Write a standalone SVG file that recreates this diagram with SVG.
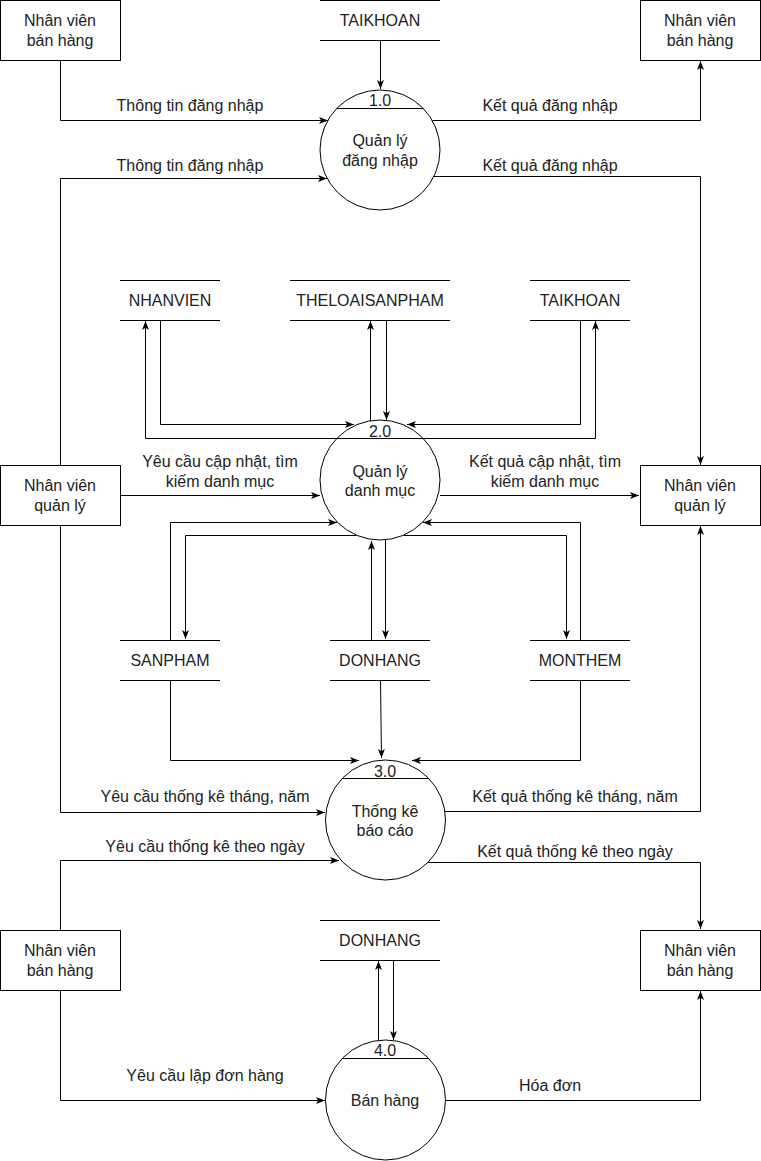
<svg xmlns="http://www.w3.org/2000/svg" width="761" height="1161" viewBox="0 0 761 1161">
<style>
text{font-family:"Liberation Sans",Arial,sans-serif;font-size:16px;fill:#222;text-anchor:middle;dominant-baseline:central}
.b{fill:#fff;stroke:#000;stroke-width:1}
.s{stroke:#000;stroke-width:1;fill:none}
.c{stroke:#000;stroke-width:1;fill:none}
.a{marker-end:url(#ar)}
</style>
<defs>
<marker id="ar" viewBox="0 0 9 7" refX="9" refY="3.5" markerWidth="9" markerHeight="7" markerUnits="userSpaceOnUse" orient="auto">
<path d="M0,0 L9,3.5 L0,7 L2.2,3.5 Z" fill="#000"/>
</marker>
</defs>
<rect width="761" height="1161" fill="#fff"/>

<g id="connectors">
<!-- process 1 -->
<polyline class="c a" points="60.5,60 60.5,120.5 328,120.5"/>
<polyline class="c a" points="60.5,465 60.5,178.5 327,178.5"/>
<polyline class="c a" points="432,120.5 700.5,120.5 700.5,61"/>
<polyline class="c a" points="433,176.5 700.5,176.5 700.5,465"/>
<polyline class="c a" points="380.5,40 380.5,89"/>
<!-- process 2 stores top -->
<polyline class="c a" points="160.5,320 160.5,424.5 354,424.5"/>
<polyline class="c a" points="338,438.5 145.5,438.5 145.5,321"/>
<polyline class="c a" points="370.5,421 370.5,321"/>
<polyline class="c a" points="386.5,320 386.5,420"/>
<polyline class="c a" points="580.5,320 580.5,424.5 407,424.5"/>
<polyline class="c a" points="422,438.5 595.5,438.5 595.5,321"/>
<!-- process 2 externals -->
<polyline class="c a" points="120,495.5 320,495.5"/>
<polyline class="c a" points="440,495.5 639,495.5"/>
<!-- process 2 stores bottom -->
<polyline class="c a" points="170.5,640 170.5,522.5 337,522.5"/>
<polyline class="c a" points="356,535.5 185.5,535.5 185.5,639"/>
<polyline class="c a" points="371.5,640 371.5,541"/>
<polyline class="c a" points="385.5,540 385.5,639"/>
<polyline class="c a" points="580.5,640 580.5,522.5 423,522.5"/>
<polyline class="c a" points="404,535.5 566.5,535.5 566.5,639"/>
<!-- to process 3 -->
<polyline class="c a" points="170.5,680 170.5,760.5 359,760.5"/>
<polyline class="c a" points="380.5,680 381.5,758"/>
<polyline class="c a" points="580.5,680 580.5,760.5 412,760.5"/>
<polyline class="c a" points="60.5,525 60.5,812.5 325,812.5"/>
<polyline class="c a" points="445,811.5 700.5,811.5 700.5,526"/>
<polyline class="c a" points="60.5,930 60.5,860.5 339,860.5"/>
<polyline class="c a" points="428,862.5 700.5,862.5 700.5,929"/>
<!-- process 4 -->
<polyline class="c a" points="60.5,990 60.5,1100.5 325,1100.5"/>
<polyline class="c a" points="445,1100.5 700.5,1100.5 700.5,991"/>
<polyline class="c a" points="378.5,1041 378.5,961"/>
<polyline class="c a" points="393.5,960 393.5,1040"/>
</g>

<g id="labels">
<text x="190" y="105">Thông tin đăng nhập</text>
<text x="190" y="165">Thông tin đăng nhập</text>
<text x="550" y="105">Kết quả đăng nhập</text>
<text x="550" y="165">Kết quả đăng nhập</text>
<text x="220" y="461">Yêu cầu cập nhật, tìm</text>
<text x="220" y="481">kiếm danh mục</text>
<text x="545" y="461">Kết quả cập nhật, tìm</text>
<text x="545" y="481">kiếm danh mục</text>
<text x="205" y="796">Yêu cầu thống kê tháng, năm</text>
<text x="575" y="796">Kết quả thống kê tháng, năm</text>
<text x="205" y="846">Yêu cầu thống kê theo ngày</text>
<text x="575" y="851">Kết quả thống kê theo ngày</text>
<text x="205" y="1075">Yêu cầu lập đơn hàng</text>
<text x="550" y="1085">Hóa đơn</text>
</g>

<g id="nv-ban-hang-1"><rect class="b" x="0.5" y="0.5" width="120" height="60"/><text x="60" y="20">Nhân viên</text><text x="60" y="40">bán hàng</text></g>
<g id="nv-ban-hang-2"><rect class="b" x="640.5" y="0.5" width="120" height="60"/><text x="700" y="20">Nhân viên</text><text x="700" y="40">bán hàng</text></g>
<g id="nv-quan-ly-1"><rect class="b" x="0.5" y="465.5" width="120" height="60"/><text x="60" y="485">Nhân viên</text><text x="60" y="505">quản lý</text></g>
<g id="nv-quan-ly-2"><rect class="b" x="640.5" y="465.5" width="120" height="60"/><text x="700" y="485">Nhân viên</text><text x="700" y="505">quản lý</text></g>
<g id="nv-ban-hang-3"><rect class="b" x="0.5" y="930.5" width="120" height="60"/><text x="60" y="950">Nhân viên</text><text x="60" y="970">bán hàng</text></g>
<g id="nv-ban-hang-4"><rect class="b" x="640.5" y="930.5" width="120" height="60"/><text x="700" y="950">Nhân viên</text><text x="700" y="970">bán hàng</text></g>

<g id="ds-taikhoan-1"><path class="s" d="M320,0.5 H440 M320,40.5 H440"/><text x="380" y="20">TAIKHOAN</text></g>
<g id="ds-nhanvien"><path class="s" d="M120,280.5 H220 M120,320.5 H220"/><text x="170" y="300">NHANVIEN</text></g>
<g id="ds-theloaisanpham"><path class="s" d="M290,280.5 H450 M290,320.5 H450"/><text x="370" y="300">THELOAISANPHAM</text></g>
<g id="ds-taikhoan-2"><path class="s" d="M530,280.5 H630 M530,320.5 H630"/><text x="580" y="300">TAIKHOAN</text></g>
<g id="ds-sanpham"><path class="s" d="M120,640.5 H220 M120,680.5 H220"/><text x="170" y="660">SANPHAM</text></g>
<g id="ds-donhang-1"><path class="s" d="M330,640.5 H430 M330,680.5 H430"/><text x="380" y="660">DONHANG</text></g>
<g id="ds-monthem"><path class="s" d="M530,640.5 H630 M530,680.5 H630"/><text x="580" y="660">MONTHEM</text></g>
<g id="ds-donhang-2"><path class="s" d="M320,920.5 H440 M320,960.5 H440"/><text x="380" y="940">DONHANG</text></g>

<g id="p1"><circle class="b" cx="380" cy="150" r="60"/><path class="s" d="M337,108.5 H423"/><text x="380" y="100">1.0</text><text x="380" y="140">Quản lý</text><text x="380" y="160">đăng nhập</text></g>
<g id="p2"><circle class="b" cx="380" cy="480" r="60" fill-opacity="0"/><path class="s" d="M337,438.5 H423"/><text x="380" y="431">2.0</text><text x="380" y="471">Quản lý</text><text x="380" y="490">danh mục</text></g>
<g id="p3"><circle class="b" cx="385.5" cy="820" r="60"/><path class="s" d="M342,778.5 H429"/><text x="385" y="771">3.0</text><text x="385" y="811">Thống kê</text><text x="385" y="830">báo cáo</text></g>
<g id="p4"><circle class="b" cx="385.5" cy="1100" r="60"/><path class="s" d="M342,1058.5 H429"/><text x="385" y="1050">4.0</text><text x="385" y="1100">Bán hàng</text></g>
</svg>
